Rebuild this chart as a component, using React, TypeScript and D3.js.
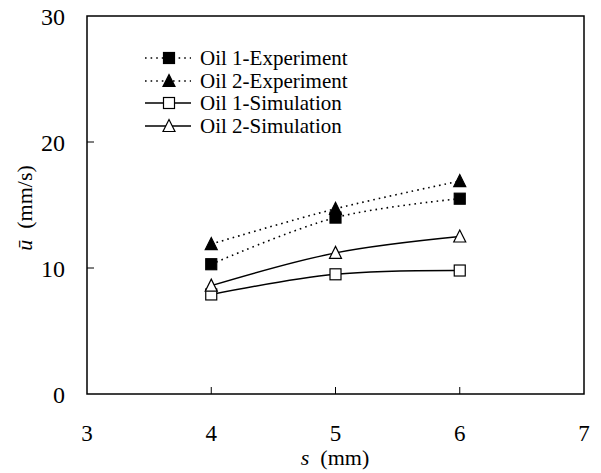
import React from "react";
import * as d3 from "d3";

const sValues = [4, 5, 6];
const oil1Experiment = [10.3, 14.0, 15.5];
const oil2Experiment = [11.9, 14.7, 16.9];
const oil1Simulation = [7.9, 9.5, 9.8];
const oil2Simulation = [8.6, 11.2, 12.5];
const xTicks = [3, 4, 5, 6, 7];
const yTicks = [0, 10, 20, 30];
const seriesNames = ["Oil 1-Experiment", "Oil 2-Experiment", "Oil 1-Simulation", "Oil 2-Simulation"];

type Series = { name: string; values: number[]; dotted: boolean; marker: "square" | "triangle"; filled: boolean };

const series: Series[] = [
  { name: seriesNames[0], values: oil1Experiment, dotted: true, marker: "square", filled: true },
  { name: seriesNames[1], values: oil2Experiment, dotted: true, marker: "triangle", filled: true },
  { name: seriesNames[2], values: oil1Simulation, dotted: false, marker: "square", filled: false },
  { name: seriesNames[3], values: oil2Simulation, dotted: false, marker: "triangle", filled: false },
];

const W = 601;
const H = 473;
const L = 87, R = 584, T = 16, B = 394;
const FONT = "Liberation Serif, Times New Roman, DejaVu Serif, serif";
const tf = { fontFamily: FONT };

function Marker({ x, y, kind, filled }: { x: number; y: number; kind: string; filled: boolean }) {
  const fill = filled ? "#000" : "#fff";
  if (kind === "square") {
    const s = 11;
    return <rect x={x - s / 2} y={y - s / 2} width={s} height={s} fill={fill} stroke="#000" strokeWidth={1.2} />;
  }
  const w = 12, h = 11;
  const pts = `${x},${y - h / 2 - 1} ${x + w / 2},${y + h / 2} ${x - w / 2},${y + h / 2}`;
  return <polygon points={pts} fill={fill} stroke="#000" strokeWidth={1.2} strokeLinejoin="miter" />;
}

export default function App() {
  const x = d3.scaleLinear().domain([3, 7]).range([L, R]);
  const y = d3.scaleLinear().domain([0, 30]).range([B, T]);
  const line = d3
    .line<number>()
    .x((_, i) => x(sValues[i]))
    .y((d) => y(d))
    .curve(d3.curveCatmullRom.alpha(0.5));

  const legendX0 = 145, legendX1 = 191, legendMX = 169, legendTX = 200;
  const legendY = [58, 81, 103, 126];

  return (
    <svg width={W} height={H} style={{ position: "absolute", left: 0, top: 0, background: "#fff" }}>
      <rect x={0} y={0} width={W} height={H} fill="#fff" />
      <rect x={L} y={T} width={R - L} height={B - T} fill="none" stroke="#000" strokeWidth={1.5} />
      {xTicks.slice(1, -1).map((t) => (
        <line key={"xt" + t} x1={x(t)} x2={x(t)} y1={B} y2={B - 7} stroke="#000" strokeWidth={1} />
      ))}
      {yTicks.slice(1, -1).map((t) => (
        <line key={"yt" + t} x1={L} x2={L + 7} y1={y(t)} y2={y(t)} stroke="#000" strokeWidth={1} />
      ))}
      {xTicks.map((t) => (
        <text key={"xl" + t} x={x(t)} y={441} textAnchor="middle" fontSize={23} fill="#000" style={tf}>
          {t}
        </text>
      ))}
      {yTicks.map((t) => (
        <text key={"yl" + t} x={65} y={y(t) + 9} textAnchor="end" fontSize={24} fill="#000" style={tf}>
          {t}
        </text>
      ))}
      <text x={335} y={465} textAnchor="middle" fontSize={22} fill="#000" style={{ ...tf, whiteSpace: "pre" }}>
        <tspan fontStyle="italic">s</tspan>
        <tspan>{"  (mm)"}</tspan>
      </text>
      <text
        transform={`translate(32,${(T + B) / 2 + 3}) rotate(-90)`}
        textAnchor="middle"
        fontSize={22}
        fill="#000"
        style={{ ...tf, whiteSpace: "pre" }}
      >
        <tspan fontStyle="italic">{"\u016B"}</tspan>
        <tspan>{"  (mm/s)"}</tspan>
      </text>
      {series.map((s) => (
        <path
          key={"l" + s.name}
          d={line(s.values) || ""}
          fill="none"
          stroke="#000"
          strokeWidth={s.dotted ? 1.6 : 1.4}
          strokeDasharray={s.dotted ? "1.6,4" : undefined}
        />
      ))}
      {series.map((s) =>
        s.values.map((v, i) => (
          <Marker key={s.name + i} x={x(sValues[i])} y={y(v)} kind={s.marker} filled={s.filled} />
        ))
      )}
      {series.map((s, i) => (
        <g key={"lg" + s.name}>
          <line
            x1={legendX0}
            x2={legendX1}
            y1={legendY[i]}
            y2={legendY[i]}
            stroke="#000"
            strokeWidth={s.dotted ? 1.6 : 1.4}
            strokeDasharray={s.dotted ? "1.6,4" : undefined}
          />
          <Marker x={legendMX} y={legendY[i]} kind={s.marker} filled={s.filled} />
          <text x={legendTX} y={legendY[i] + 7} fontSize={21} fill="#000" style={tf}>
            {s.name}
          </text>
        </g>
      ))}
    </svg>
  );
}
